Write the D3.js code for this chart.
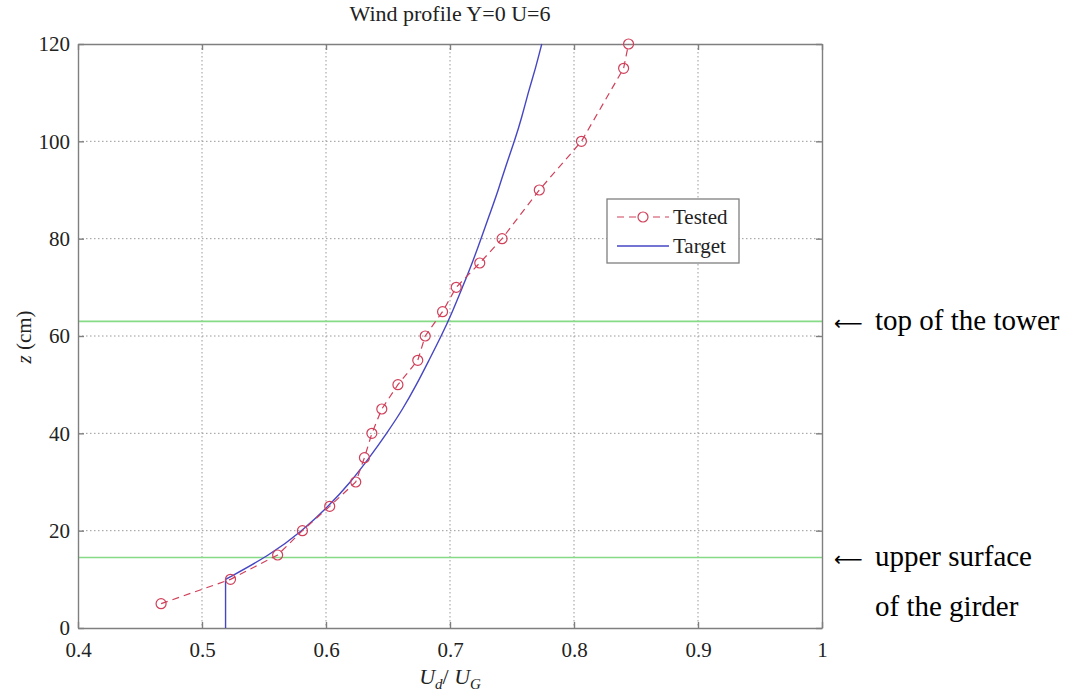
<!DOCTYPE html>
<meta charset="utf-8">
<style>
body { margin: 0; background: #fff; }
svg { font-family: "Liberation Serif", "Times New Roman", serif; }
.grid line { stroke: #999; stroke-dasharray: 1.5,2.5; stroke-width: 1; }
</style>
<body>
<svg id="chart" width="1081" height="698"></svg>
</body>
<script src="https://d3js.org/d3.v7.min.js"></script>
<script>
// Tested profile (measured)
var testedU = [0.467, 0.523, 0.561, 0.581, 0.603, 0.624, 0.631, 0.637, 0.645, 0.658, 0.674, 0.680, 0.694, 0.705, 0.724, 0.742, 0.772, 0.806, 0.840, 0.844];
var testedZ = [5, 10, 15, 20, 25, 30, 35, 40, 45, 50, 55, 60, 65, 70, 75, 80, 90, 100, 115, 120];

// Target profile
var targetU = [0.519, 0.519, 0.555, 0.581, 0.602, 0.620, 0.635, 0.649, 0.662, 0.673, 0.683, 0.693, 0.702, 0.710, 0.718, 0.725, 0.732, 0.739, 0.745, 0.752, 0.758, 0.763, 0.769, 0.774];
var targetZ = [0, 10, 15, 20, 25, 30, 35, 40, 45, 50, 55, 60, 65, 70, 75, 80, 85, 90, 95, 100, 105, 110, 115, 120];

var xTicks = [0.4, 0.5, 0.6, 0.7, 0.8, 0.9, 1];
var yTicks = [0, 20, 40, 60, 80, 100, 120];

// reference heights (green lines)
var levels = [{ z: 63, text: "top of the tower" }, { z: 14.5, text: "upper surface", text2: "of the girder" }];

(function () {
  var svg = d3.select("#chart");
  var pl = 78, pr = 822, pt = 44, pb = 628;

  var x = d3.scaleLinear().domain([0.4, 1]).range([pl, pr]);
  var y = d3.scaleLinear().domain([0, 120]).range([pb, pt]);

  var axisColor = "#7f7f7f";

  // grid
  var grid = svg.append("g").attr("class", "grid");
  grid.selectAll("line.v").data(xTicks.slice(1, -1)).enter().append("line")
    .attr("x1", function(d) { return x(d); }).attr("x2", function(d) { return x(d); })
    .attr("y1", pt).attr("y2", pb);
  grid.selectAll("line.h").data(yTicks.slice(1, -1)).enter().append("line")
    .attr("y1", function(d) { return y(d); }).attr("y2", function(d) { return y(d); })
    .attr("x1", pl).attr("x2", pr);

  // green reference lines
  svg.selectAll("line.level").data(levels).enter().append("line")
    .attr("x1", pl).attr("x2", pr)
    .attr("y1", function(d) { return y(d.z); }).attr("y2", function(d) { return y(d.z); })
    .attr("stroke", "#86dc86").attr("stroke-width", 1.6);

  // axes, matlab style: ticks inward on all sides
  var tl = 6;
  var axB = d3.axisBottom(x).tickValues(xTicks).tickSize(-tl).tickSizeOuter(0).tickPadding(14).tickFormat(d3.format("~g"));
  var axT = d3.axisTop(x).tickValues(xTicks).tickSize(-tl).tickSizeOuter(0).tickFormat("");
  var axL = d3.axisLeft(y).tickValues(yTicks).tickSize(-tl).tickSizeOuter(0).tickPadding(8);
  var axR = d3.axisRight(y).tickValues(yTicks).tickSize(-tl).tickSizeOuter(0).tickFormat("");

  function style(g) {
    g.select(".domain").attr("stroke", axisColor).attr("stroke-width", 1.4);
    g.selectAll(".tick line").attr("stroke", axisColor).attr("stroke-width", 1.4);
    g.selectAll(".tick text").attr("fill", "#222").style("font-size", "21px")
      .style("font-family", "'Liberation Serif', serif");
  }
  svg.append("g").attr("transform", "translate(0," + pb + ")").call(axB).call(style);
  svg.append("g").attr("transform", "translate(0," + pt + ")").call(axT).call(style);
  svg.append("g").attr("transform", "translate(" + pl + ",0)").call(axL).call(style);
  svg.append("g").attr("transform", "translate(" + pr + ",0)").call(axR).call(style);

  var target = targetU.map(function(u, i) { return [u, targetZ[i]]; });
  var tested = testedU.map(function(u, i) { return [u, testedZ[i]]; });
  var line = d3.line().x(function(d) { return x(d[0]); }).y(function(d) { return y(d[1]); });
  var curve = d3.line().curve(d3.curveBasis).x(function(d) { return x(d[0]); }).y(function(d) { return y(d[1]); });

  // target: straight part near the ground, smooth profile above
  var blue = "#4646c4";
  svg.append("path").datum(target.slice(0, 2)).attr("d", line)
    .attr("fill", "none").attr("stroke", blue).attr("stroke-width", 1.4);
  svg.append("path").datum(target.slice(1)).attr("d", curve)
    .attr("fill", "none").attr("stroke", blue).attr("stroke-width", 1.4);

  // tested, dashed with open circles
  var red = "#d0405a";
  svg.append("path").datum(tested).attr("d", line)
    .attr("fill", "none").attr("stroke", red).attr("stroke-width", 1.2).attr("stroke-dasharray", "7,5");
  svg.selectAll("circle.pt").data(tested).enter().append("circle")
    .attr("cx", function(d) { return x(d[0]); }).attr("cy", function(d) { return y(d[1]); })
    .attr("r", 5).attr("fill", "none").attr("stroke", red).attr("stroke-width", 1.2);

  // title
  svg.append("text").attr("x", (pl + pr) / 2).attr("y", 21).attr("text-anchor", "middle")
    .style("font-size", "22px").attr("fill", "#222").text("Wind profile Y=0 U=6");

  // axis labels
  var xl = svg.append("text").attr("x", (pl + pr) / 2).attr("y", 684).attr("text-anchor", "middle")
    .style("font-size", "22px").attr("fill", "#222");
  xl.append("tspan").style("font-style", "italic").text("U");
  xl.append("tspan").style("font-style", "italic").style("font-size", "15px").attr("dy", 5).text("d");
  xl.append("tspan").attr("dy", -5).text("/  ");
  xl.append("tspan").style("font-style", "italic").text("U");
  xl.append("tspan").style("font-style", "italic").style("font-size", "15px").attr("dy", 5).text("G");

  var yl = svg.append("text").attr("transform", "translate(31,337) rotate(-90)")
    .attr("text-anchor", "middle").style("font-size", "21px").attr("fill", "#222");
  yl.append("tspan").style("font-style", "italic").text("z");
  yl.append("tspan").text(" (cm)");

  // legend
  var lg = svg.append("g").attr("transform", "translate(607,199)");
  lg.append("rect").attr("width", 132).attr("height", 64).attr("fill", "#fff")
    .attr("stroke", axisColor).attr("stroke-width", 1.3);
  lg.append("line").attr("x1", 10).attr("x2", 62).attr("y1", 18).attr("y2", 18)
    .attr("stroke", red).attr("stroke-width", 1.2).attr("stroke-dasharray", "7,5");
  lg.append("circle").attr("cx", 36).attr("cy", 18).attr("r", 5).attr("fill", "#fff").attr("stroke", red).attr("stroke-width", 1.2);
  lg.append("line").attr("x1", 10).attr("x2", 62).attr("y1", 47).attr("y2", 47)
    .attr("stroke", blue).attr("stroke-width", 1.4);
  lg.append("text").attr("x", 66).attr("y", 25).style("font-size", "21px").attr("fill", "#222").text("Tested");
  lg.append("text").attr("x", 66).attr("y", 54).style("font-size", "21px").attr("fill", "#222").text("Target");

  // annotations on the right
  function arrow(sel) {
    sel.append("tspan").style("font-family", "'DejaVu Sans', sans-serif").style("font-size", "20px").text("\u27F5");
  }
  svg.selectAll("text.ann").data(levels).enter().append("text")
    .attr("x", 834).attr("y", function(d) { return y(d.z) + 9; })
    .style("font-size", "29px").attr("fill", "#000")
    .each(function(d) {
      var t = d3.select(this);
      arrow(t);
      t.append("tspan").attr("x", 875).text(d.text);
    });
  svg.selectAll("text.ann2").data(levels.filter(function(d) { return d.text2; })).enter().append("text")
    .attr("x", 875).attr("y", function(d) { return y(d.z) + 59; })
    .style("font-size", "29px").attr("fill", "#000")
    .text(function(d) { return d.text2; });
})();
</script>
